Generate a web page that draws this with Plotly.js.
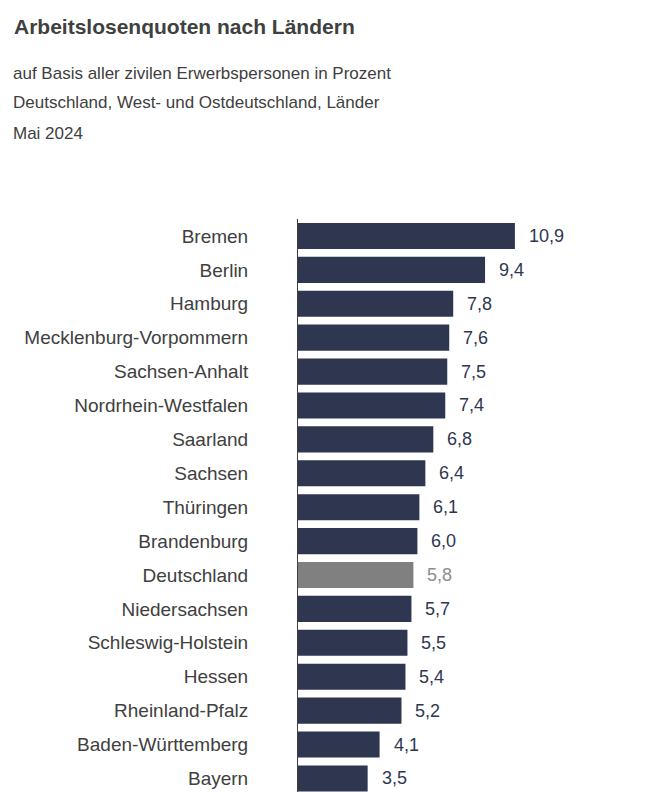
<!DOCTYPE html>
<html>
<head>
<meta charset="utf-8">
<script src="https://cdn.plot.ly/plotly-3.0.1.min.js"></script>
<style>html,body{margin:0;padding:0;background:#fff;}#chart{width:646px;height:792px;}</style>
</head>
<body>
<div id="chart"></div>
<script>
const categories = ["Bremen","Berlin","Hamburg","Mecklenburg-Vorpommern","Sachsen-Anhalt","Nordrhein-Westfalen","Saarland","Sachsen","Thüringen","Brandenburg","Deutschland","Niedersachsen","Schleswig-Holstein","Hessen","Rheinland-Pfalz","Baden-Württemberg","Bayern"];
const values = [10.9,9.4,7.8,7.6,7.5,7.4,6.8,6.4,6.1,6.0,5.8,5.7,5.5,5.4,5.2,4.1,3.5];
const highlight = "Deutschland";

const navy = "#2f3750";
const grey = "#808080";
const barColors = categories.map(c => c === highlight ? grey : navy);
const fmt = v => v.toFixed(1).replace(".", ",");

const FONT = "Liberation Sans, Arial, sans-serif";
const W = 646, H = 792, L = 298, R = 48, T = 219, B = 0;
const plotW = W - L - R, plotH = H - T - B;
const px2py = py => (H - B - py) / plotH;
const px2x = px => (px - L) / plotW;

const trace = {
  type: "bar",
  orientation: "h",
  x: values,
  y: categories,
  marker: {color: barColors},
  hoverinfo: "none"
};

const annotations = categories.map((c, i) => ({
  x: values[i], y: c, xref: "x", yref: "y",
  text: fmt(values[i]), showarrow: false,
  xanchor: "left", xshift: 12,
  font: {family: FONT, size: 18, color: c === highlight ? "#8c8c8c" : navy}
}));

const subLines = ["auf Basis aller zivilen Erwerbspersonen in Prozent","Deutschland, West- und Ostdeutschland, Länder","Mai 2024"];
const subY = [73, 103, 133];
subLines.forEach((t, i) => annotations.push({
  xref: "paper", yref: "paper", x: px2x(11), y: px2py(subY[i]),
  xanchor: "left", yanchor: "middle", showarrow: false, text: t,
  font: {family: FONT, size: 17, color: "#404040"}
}));

const layout = {
  width: W, height: H,
  margin: {l: L, r: R, t: T, b: B, pad: 0},
  paper_bgcolor: "#fff", plot_bgcolor: "#fff",
  showlegend: false,
  bargap: 0.23,
  title: {
    text: "<b>Arbeitslosenquoten nach Ländern</b>",
    xref: "container", yref: "container",
    x: 14 / W, y: 1 - 27 / H, xanchor: "left", yanchor: "middle",
    font: {family: FONT, size: 21, color: "#404040"}
  },
  xaxis: {range: [0, plotW / 19.9], visible: false, fixedrange: true},
  yaxis: {
    type: "category", range: [16.4, -0.5],
    showline: true, linecolor: "#404040", linewidth: 1,
    showgrid: false, zeroline: false, ticks: "",
    ticklabelstandoff: 45,
    tickfont: {family: FONT, size: 19, color: "#404040"},
    fixedrange: true
  },
  annotations: annotations
};

Plotly.newPlot("chart", [trace], layout, {displayModeBar: false, staticPlot: true});
</script>
</body>
</html>
